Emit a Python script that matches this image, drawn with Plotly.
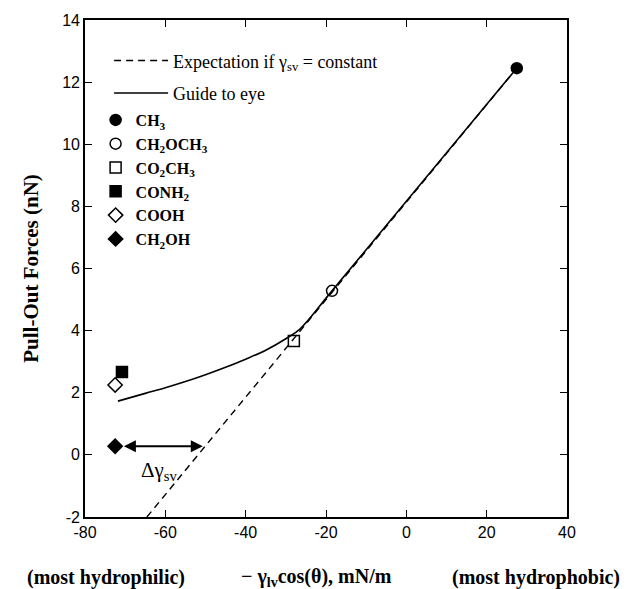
import plotly.graph_objects as go
import numpy as np

# ---- data ----
groups = ["CH<sub>3</sub>", "CH<sub>2</sub>OCH<sub>3</sub>", "CO<sub>2</sub>CH<sub>3</sub>",
          "CONH<sub>2</sub>", "COOH", "CH<sub>2</sub>OH"]
wetting = [27.5, -18.5, -28.0, -70.8, -72.5, -72.5]       # -gamma_lv cos(theta), mN/m
pullout = [12.45, 5.28, 3.67, 2.67, 2.25, 0.28]           # nN
symbols = ["circle", "circle-open", "square-open", "square", "diamond-open", "diamond"]

expect_x = [-64.6, 27.5]
expect_y = [-2.0, 12.45]

guide_x = [-71.8, -65, -60, -55, -50, -45, -40, -35, -30, -26.5, -18.5, 27.5]
guide_y = [1.73, 1.98, 2.16, 2.36, 2.58, 2.82, 3.08, 3.37, 3.74, 4.05, 5.28, 12.45]

x_ticks = [-80, -60, -40, -20, 0, 20, 40]
x_ticktext = ["-80", "-60", "-40", "-20", "0", "20", "40"]
y_ticks = [-2, 0, 2, 4, 6, 8, 10, 12, 14]
y_ticktext = ["-2", "0", "2", "4", "6", "8", "10", "12", "14"]

SERIF = "Liberation Serif"
SANS = "Liberation Sans"

fig = go.Figure()

fig.add_trace(go.Scatter(
    x=expect_x, y=expect_y, mode="lines",
    line=dict(color="black", width=1.4, dash="7px,5px"),
    name="Expectation if γ<sub>sv</sub> = constant", legend="legend", legendgroup="a"))
fig.add_trace(go.Scatter(
    x=guide_x, y=guide_y, mode="lines", line_shape="spline",
    line=dict(color="black", width=1.6),
    name="Guide to eye", legend="legend", legendgroup="b"))

for g, xv, yv, s in zip(groups, wetting, pullout, symbols):
    fig.add_trace(go.Scatter(
        x=[xv], y=[yv], mode="markers",
        marker=dict(symbol=s, size=11, color="black",
                    line=dict(color="black", width=1.5)),
        name="<b>" + g + "</b>", legend="legend2"))

# arrow for delta gamma_sv: from CH2OH point to the expectation line at same force
y_ref = pullout[5]
x_on_line = float(np.interp(y_ref, expect_y, expect_x))
fig.add_annotation(x=x_on_line - 0.6, y=y_ref, ax=wetting[5] + 1.8, ay=y_ref,
                   xref="x", yref="y", axref="x", ayref="y",
                   text="", showarrow=True, arrowhead=2, arrowside="end+start",
                   arrowsize=1.2, arrowwidth=2, arrowcolor="black")
fig.add_annotation(x=(x_on_line + wetting[5]) / 2 - 0.2, y=y_ref - 0.8, xref="x", yref="y",
                   text="Δγ<sub>sv</sub>", showarrow=False,
                   font=dict(family=SERIF, size=21, color="black"))

# bottom labels
for txt, xp in [("<b>(most hydrophilic)</b>", 0.043),
                ("<b>− γ<sub>lv</sub>cos(θ), mN/m</b>", 0.48),
                ("<b>(most hydrophobic)</b>", 0.935)]:
    fig.add_annotation(x=xp, y=-0.121, xref="paper", yref="paper", text=txt,
                       showarrow=False, xanchor="center", yanchor="middle",
                       font=dict(family=SERIF, size=20, color="black"))

axis_common = dict(showgrid=False, zeroline=False, showline=True, linecolor="black",
                   linewidth=1.6, mirror="ticks", ticks="inside", ticklen=7,
                   tickwidth=1.2, tickcolor="black",
                   tickfont=dict(family=SANS, size=16, color="black"))

fig.update_xaxes(range=[-80, 40], tickvals=x_ticks, ticktext=x_ticktext, **axis_common)
fig.update_yaxes(range=[-2, 14], tickvals=y_ticks, ticktext=y_ticktext,
                 title=dict(text="<b>Pull-Out Forces (nN)</b>", standoff=18,
                            font=dict(family=SERIF, size=21, color="black")),
                 **axis_common)

fig.update_layout(
    width=627, height=581,
    margin=dict(l=77, r=68, t=12, b=72, autoexpand=False),
    plot_bgcolor="white", paper_bgcolor="white",
    legend=dict(x=0.05, y=0.955, xanchor="left", yanchor="top",
                bgcolor="rgba(0,0,0,0)", itemwidth=54, tracegroupgap=6,
                font=dict(family=SERIF, size=18, color="black")),
    legend2=dict(x=0.022, y=0.833, xanchor="left", yanchor="top",
                 bgcolor="rgba(0,0,0,0)", itemwidth=30,
                 font=dict(family=SERIF, size=16, color="black")),
)

fig.write_html("out.html")
